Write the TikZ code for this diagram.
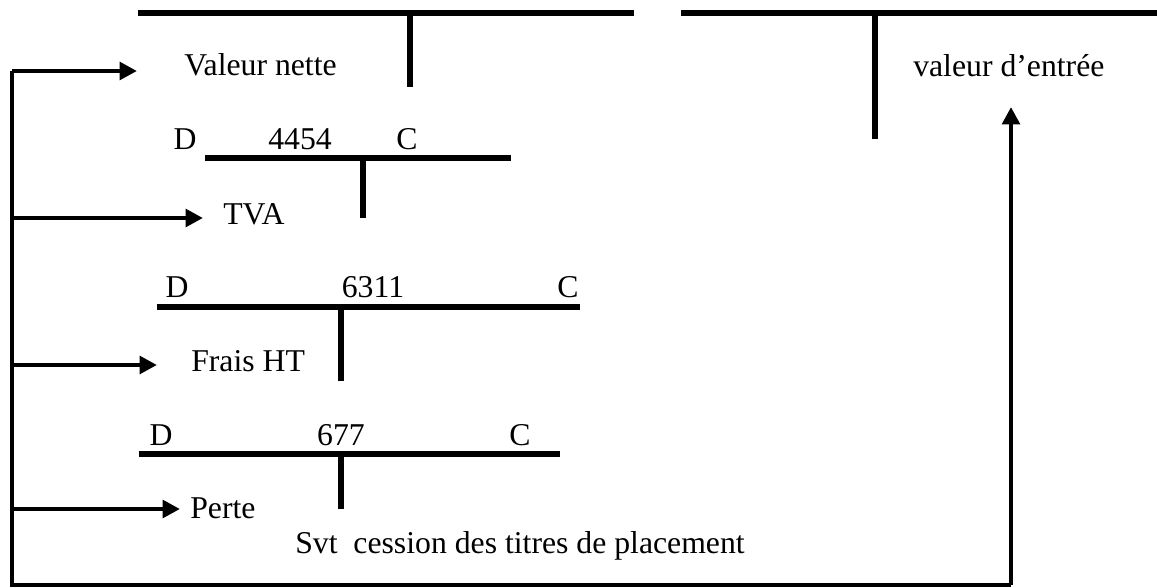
\documentclass[tikz,border=0pt]{standalone}
\usepackage{fontspec}
\setmainfont{Liberation Serif}
\usetikzlibrary{arrows.meta}
\begin{document}
\begin{tikzpicture}[x=0.75pt,y=-0.75pt,
  txt/.style={inner sep=0pt,font=\fontsize{23.8}{28}\selectfont},
  acct/.style={line width=4pt},
  trunk/.style={line width=3.6pt,line join=miter},
  branch/.style={line width=3.6pt,-{Triangle[length=13pt,width=13pt]}}]
\useasboundingbox (0,0) rectangle (1157,588);
% T accounts
\draw[acct] (138,13) -- (634,13);
\draw[acct] (410,13) -- (410,87);
\draw[acct] (681,13) -- (1160,13);
\draw[acct] (875,13) -- (875,139);
\draw[acct] (205,158) -- (511,158);
\draw[acct] (363,158) -- (363,218);
\draw[acct] (157,307) -- (580,307);
\draw[acct] (341,307) -- (341,381);
\draw[acct] (139,454) -- (560,454);
\draw[acct] (341,454) -- (341,509);
% labels
\node[txt,anchor=base west] (vn) at (184,76) {Valeur nette};
\node[txt,anchor=base west] (ve) at (913,77) {valeur d’entrée};
\node[txt,anchor=base] (d1) at (185,150) {D};
\node[txt,anchor=base] (n1) at (300,150) {4454};
\node[txt,anchor=base] (c1) at (407,150) {C};
\node[txt,anchor=base west] (tva) at (223,224) {TVA};
\node[txt,anchor=base] (d2) at (177,297) {D};
\node[txt,anchor=base] (n2) at (373,297) {6311};
\node[txt,anchor=base] (c2) at (568,297) {C};
\node[txt,anchor=base west] (fr) at (191,371) {Frais HT};
\node[txt,anchor=base] (d3) at (161,445) {D};
\node[txt,anchor=base] (n3) at (341,445) {677};
\node[txt,anchor=base] (c3) at (520,445) {C};
\node[txt,anchor=base west] (pe) at (190,518) {Perte};
\node[txt,anchor=base west] (svt) at (295,553) {Svt\ \ cession des titres de placement};
% connector points
\coordinate (t0) at (12,71);
\coordinate (t1) at (12,218);
\coordinate (t2) at (12,365);
\coordinate (t3) at (12,509);
\coordinate (bl) at (12,585);
\coordinate (br) at (1011,585);
\coordinate (a0) at (137,71);
\coordinate (a1) at (203,218);
\coordinate (a2) at (157,365);
\coordinate (a3) at (180,509);
\coordinate (au) at (1011,107);
% trunk
\draw[trunk] (t0) -- (bl) -- (br);
\draw[branch] (br) -- (au);
\draw[branch] (t0) -- (a0);
\draw[branch] (t1) -- (a1);
\draw[branch] (t2) -- (a2);
\draw[branch] (t3) -- (a3);
\end{tikzpicture}
\end{document}
